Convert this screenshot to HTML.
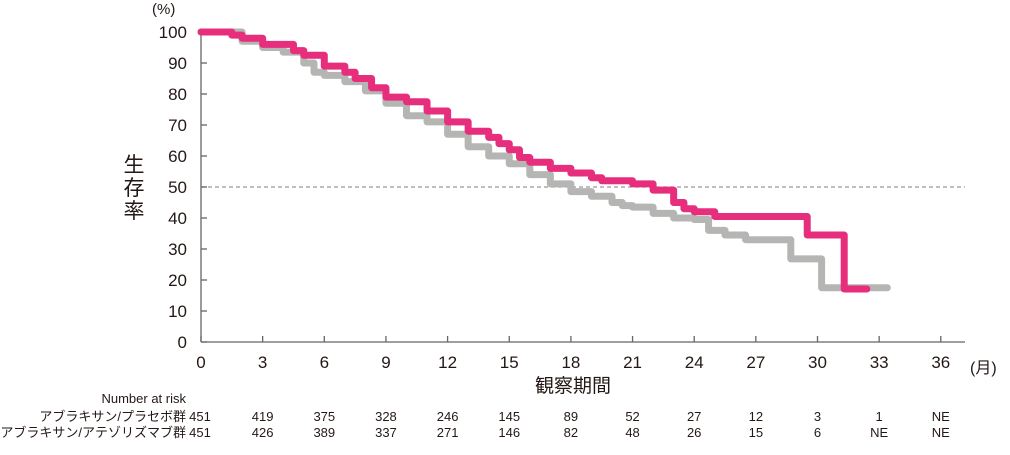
<!DOCTYPE html>
<html><head><meta charset="utf-8"><style>
body{margin:0;background:#fff;width:1010px;height:450px;overflow:hidden}
text{font-family:"Liberation Sans","Noto Sans CJK JP",sans-serif;fill:#231815}
</style></head><body>
<svg id="chart" width="1010" height="450" viewBox="0 0 1010 450" xmlns="http://www.w3.org/2000/svg">
<g id="axes"></g><g id="series"></g><g id="risk"></g>
</svg>
<script>
const xTicks=[0,3,6,9,12,15,18,21,24,27,30,33,36];
const yTicks=[0,10,20,30,40,50,60,70,80,90,100];
const placeboT=[0,2,3,4,5,5.5,6,7,8,9,10,11,12,13,14,15,16,17,18,19,20,20.5,21,22,23,24,24.7,25.5,26.5,28.7,30.2,33.4];
const placeboS=[100,97,95,93.5,90,87,86,84,81,77,73,71,67,63,60,57.5,54,51,48.5,47,45,44,43.5,41.5,40,39.5,36,34.5,33,26.8,17.5,17.5];
const atezoT=[0,1.5,2,3,4.5,5,6,7,7.5,8.3,9,10,11,12,13,14,14.5,15,15.5,16,17,18,19,19.5,21,22,23,23.5,24,25,29.5,31.3,32.4];
const atezoS=[100,99,98,96,94,92.5,89,87,85,82,79,77.5,74.5,71,68,66,64,62,59.5,58,56,54.5,53,52,51,49,45,43,42,40.5,34.5,17.1,17.1];
const riskPlacebo=["451","419","375","328","246","145","89","52","27","12","3","1","NE"];
const riskAtezo=["451","426","389","337","271","146","82","48","26","15","6","NE","NE"];
const X0=201,XW=20.55,Y0=342,YH=3.1;
const xs=m=>X0+m*XW, ys=v=>Y0-v*YH;
const NS="http://www.w3.org/2000/svg";
function mk(tag,attrs,parent,txt){const e=document.createElementNS(NS,tag);for(const k in attrs)e.setAttribute(k,attrs[k]);if(txt!==undefined)e.textContent=txt;parent.appendChild(e);return e;}
const ax=document.getElementById('axes');
let e=mk('line',{x1:X0,y1:Y0,x2:965,y2:Y0,stroke:'#6b6363','stroke-width':1.3},ax);

e=mk('line',{x1:X0,y1:ys(100),x2:X0,y2:Y0,stroke:'#6b6363','stroke-width':1.3},ax);

e=mk('line',{x1:X0,y1:ys(50),x2:965,y2:ys(50),stroke:'#999','stroke-width':1.2,'stroke-dasharray':'4,3'},ax);

xTicks.forEach(t=>{
 e=mk('line',{x1:xs(t),y1:Y0-6,x2:xs(t),y2:Y0,stroke:'#6b6363','stroke-width':1.3},ax);
 
 e=mk('text',{x:xs(t),y:Y0+26,'text-anchor':'middle','font-size':17},ax,String(t));
 
});
yTicks.forEach(t=>{
 e=mk('line',{x1:X0,y1:ys(t),x2:X0+6,y2:ys(t),stroke:'#6b6363','stroke-width':1.3},ax);
 
 e=mk('text',{x:187,y:ys(t)+6,'text-anchor':'end','font-size':17},ax,String(t));
 
});
e=mk('text',{x:152,y:14,'font-size':15},ax,'(%)');

e=mk('text',{x:970,y:373,'font-size':16},ax,'(月)');

e=mk('text',{x:573,y:392,'text-anchor':'middle','font-size':19},ax,'観察期間');

const yt=mk('g',{},ax);

['生','存','率'].forEach((c,i)=>mk('text',{x:134,y:172+i*23,'text-anchor':'middle','font-size':21},yt,c));
const sg=document.getElementById('series');
function stepPath(T,S){let d='M'+xs(T[0])+','+ys(S[0]);for(let i=1;i<T.length;i++){d+=' H'+xs(T[i])+' V'+ys(S[i]);}return d;}
e=mk('path',{d:stepPath(placeboT,placeboS),fill:'none',stroke:'#b5b5b4','stroke-width':7,'stroke-linejoin':'round','stroke-linecap':'round'},sg);

e=mk('path',{d:stepPath(atezoT,atezoS),fill:'none',stroke:'#e62e7d','stroke-width':7,'stroke-linejoin':'round','stroke-linecap':'round'},sg);

const rg=document.getElementById('risk');
e=mk('text',{x:186,y:403,'text-anchor':'end','font-size':13},rg,'Number at risk');

e=mk('text',{x:186,y:421,'text-anchor':'end','font-size':13},rg,'アブラキサン/プラセボ群');

e=mk('text',{x:186,y:437,'text-anchor':'end','font-size':13},rg,'アブラキサン/アテゾリズマブ群');

[[riskPlacebo,421],[riskAtezo,437]].forEach(([arr,y])=>{
 arr.forEach((v,i)=>{
  const x=i===0?200:xs(xTicks[i]);
  e=mk('text',{x:x,y:y,'text-anchor':'middle','font-size':13},rg,v);
  
 });
});
</script>
</body></html>
